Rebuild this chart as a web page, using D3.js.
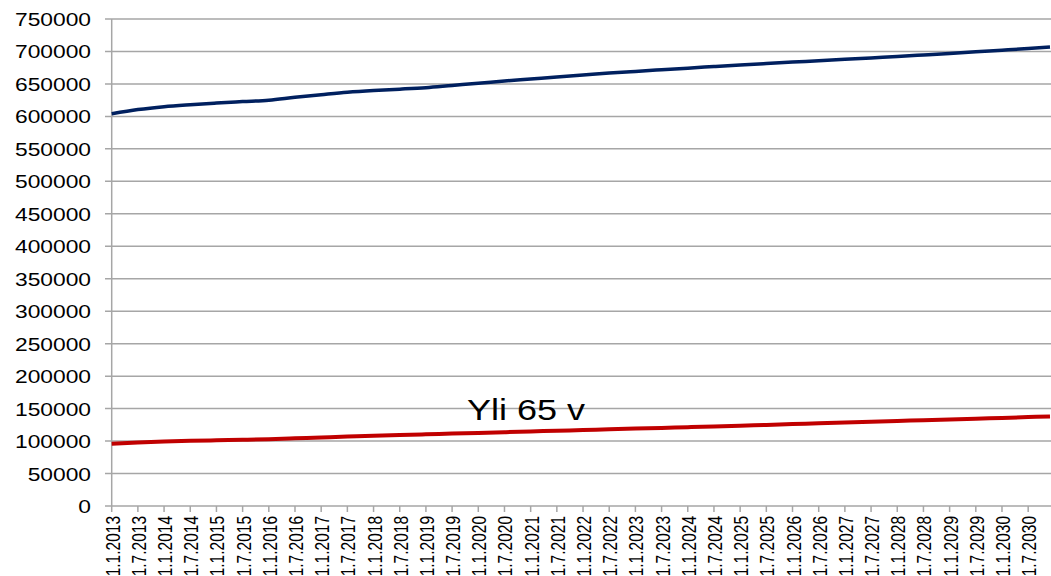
<!DOCTYPE html>
<html>
<head>
<meta charset="utf-8">
<script src="https://cdn.jsdelivr.net/npm/d3@7"></script>
<style>
  body { margin: 0; background: #fff; }
  text { font-family: 'Liberation Sans', Arial, sans-serif; }
</style>
</head>
<body>
<div id="chart"></div>
<script>
// Tick labels on the x axis (every 6 months)
const tickLabels = [];
for (let y = 2013; y <= 2030; y++) {
  tickLabels.push(`1.1.${y}`, `1.7.${y}`);
}
// Months since 1.1.2013 for each data point (last point is end of 2030)
const pointMonths = [0, 6, 12, 18, 24, 30, 36, 42, 48, 54, 60, 66, 72, 78, 84, 90, 96, 102,
  108, 114, 120, 126, 132, 138, 144, 150, 156, 162, 168, 174, 180, 186, 192, 198, 204, 210, 215];

// Total population
const totalValues = [604000, 610500, 615000, 618000, 620500, 622800, 625000, 629500, 633500,
  637300, 640000, 642000, 644300, 647700, 651000, 654500, 657600, 660700, 663700, 666700,
  669300, 671800, 674300, 676800, 679200, 681400, 683600, 685800, 688000, 690100, 692200,
  694600, 697000, 699500, 702000, 704500, 706800];

// Over 65 years
const over65Values = [96000, 97800, 99200, 100300, 101100, 101900, 102800, 104200, 105600,
  106900, 108100, 109300, 110400, 111500, 112600, 113700, 114800, 115900, 117000, 118100,
  119200, 120300, 121400, 122500, 123700, 124900, 126100, 127300, 128500, 129700, 130900,
  132100, 133300, 134500, 135700, 136900, 138000];

const yTicks = d3.range(0, 750001, 50000);

const width = 1051;
const height = 576;
const sx = 1.2; // horizontal stretch of the original text

const svg = d3.select('#chart')
  .append('svg')
  .attr('width', width)
  .attr('height', height);

const x = d3.scaleLinear().domain([0, 215]).range([111.7, 1050]);
const y = d3.scaleLinear().domain([0, 750000]).range([506, 19]);

// Horizontal gridlines
svg.append('g')
  .selectAll('line')
  .data(yTicks)
  .enter()
  .append('line')
  .attr('x1', 105)
  .attr('x2', 1051)
  .attr('y1', (d) => y(d))
  .attr('y2', (d) => y(d))
  .attr('stroke', '#a6a6a6')
  .attr('stroke-width', 1.5);

// Y axis line
svg.append('line')
  .attr('x1', x(0)).attr('x2', x(0))
  .attr('y1', y(750000)).attr('y2', y(0))
  .attr('stroke', '#a6a6a6')
  .attr('stroke-width', 1.5);

// Y labels
svg.append('g')
  .selectAll('text')
  .data(yTicks)
  .enter()
  .append('text')
  .attr('transform', (d) => `translate(91,${y(d) + 7}) scale(${sx},1)`)
  .attr('text-anchor', 'end')
  .attr('font-size', '19px')
  .attr('fill', '#000')
  .text((d) => d);

// X tick marks
const tickMonths = tickLabels.map((d, i) => i * 6);
svg.append('g')
  .selectAll('line')
  .data(tickMonths)
  .enter()
  .append('line')
  .attr('x1', (d) => x(d))
  .attr('x2', (d) => x(d))
  .attr('y1', y(0))
  .attr('y2', y(0) + 6)
  .attr('stroke', '#a6a6a6')
  .attr('stroke-width', 1.5);

// X labels, rotated
svg.append('g')
  .selectAll('text')
  .data(tickLabels)
  .enter()
  .append('text')
  .attr('transform', (d, i) => `translate(${x(i * 6) + 8},516) scale(1.3,1) rotate(-90)`)
  .attr('text-anchor', 'end')
  .attr('font-size', '15.5px')
  .attr('fill', '#000')
  .text((d) => d);

// Lines
const line = (vals) => d3.line()
  .x((d, i) => x(pointMonths[i]))
  .y((d) => y(d))
  .curve(d3.curveMonotoneX)(vals);

svg.append('path')
  .attr('d', line(totalValues))
  .attr('fill', 'none')
  .attr('stroke', '#00205f')
  .attr('stroke-width', 3.5);

svg.append('path')
  .attr('d', line(over65Values))
  .attr('fill', 'none')
  .attr('stroke', '#c00000')
  .attr('stroke-width', 4);

// Series label
svg.append('text')
  .attr('transform', `translate(467,420) scale(${sx},1)`)
  .attr('font-size', '30px')
  .attr('fill', '#000')
  .text('Yli 65 v');
</script>
</body>
</html>
